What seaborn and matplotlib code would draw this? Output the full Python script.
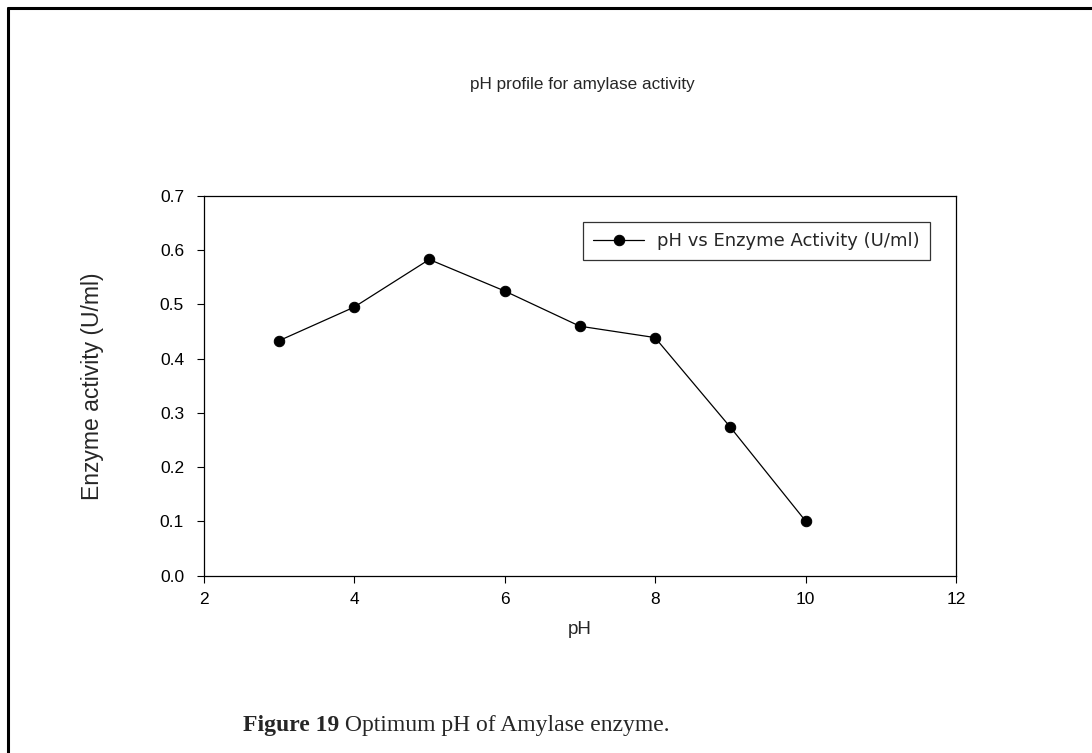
import matplotlib
matplotlib.use("Agg")
import matplotlib.pyplot as plt
import seaborn as sns
import pandas as pd
from matplotlib.lines import Line2D

# Data
ph_values = [3, 4, 5, 6, 7, 8, 9, 10]
activity = [0.433, 0.495, 0.583, 0.525, 0.460, 0.439, 0.274, 0.101]
x_ticks = [2, 4, 6, 8, 10, 12]
y_ticks = [0.0, 0.1, 0.2, 0.3, 0.4, 0.5, 0.6, 0.7]
series_name = "pH vs Enzyme Activity (U/ml)"
chart_title = "pH profile for amylase activity"
x_label = "pH"
y_label = "Enzyme activity (U/ml)"
caption_bold = "Figure 19"
caption_rest = " Optimum pH of Amylase enzyme."

sns.set_style("white")
plt.rcParams['font.family'] = ['Liberation Sans', 'DejaVu Sans']

df = pd.DataFrame({"pH": ph_values, "activity": activity})

W, H = 1092, 753
fig = plt.figure(figsize=(W / 100, H / 100), dpi=100)
ax = fig.add_axes([203.5 / W, 1 - 575.7 / H, (956 - 203.5) / W, (575.7 - 196) / H])

sns.lineplot(data=df, x="pH", y="activity", ax=ax, color="black",
             linewidth=0.9, marker="o", markersize=7.5,
             markeredgecolor="black", markerfacecolor="black",
             label=series_name)

ax.set_xlim(2, 12)
ax.set_ylim(0, 0.7)
ax.set_xticks(x_ticks)
ax.set_xticklabels([str(t) for t in x_ticks])
ax.set_yticks(y_ticks)
ax.set_yticklabels([f"{t:.1f}" for t in y_ticks])
ax.tick_params(axis="both", which="major", direction="out", length=5,
               width=0.8, color="black", labelsize=12.5, labelcolor="black",
               bottom=True, left=True, top=False, right=False)
ax.tick_params(axis="y", pad=9)
ax.tick_params(axis="x", pad=6.5)
for sp in ax.spines.values():
    sp.set_visible(True)
    sp.set_color("black")
    sp.set_linewidth(0.9)

ax.set_xlabel(x_label, fontsize=13.5)
ax.xaxis.set_label_coords(0.5, -0.12)
ax.set_ylabel(y_label, fontsize=16.5)
ax.yaxis.set_label_coords(-0.132, 0.5)

leg = ax.legend(loc="upper right",
                bbox_to_anchor=((930 - 203.5) / 752.5, (575.7 - 222) / 379.7),
                borderaxespad=0, frameon=True, fancybox=False,
                prop={"family": "DejaVu Sans", "size": 13},
                edgecolor="black", handlelength=2.8, borderpad=0.55,
                handletextpad=0.75)
leg.get_frame().set_linewidth(0.9)

fig.text(582 / W, 1 - 85 / H, chart_title, ha="center",
         va="center", fontsize=12.3)

cap_y = 1 - 731 / H
t1 = fig.text(243 / W, cap_y, caption_bold, ha="left", va="baseline",
              fontsize=17, fontweight="bold", family="Liberation Serif")
renderer = fig.canvas.get_renderer()
bb = t1.get_window_extent(renderer=renderer)
fig.text(bb.x1 / W, cap_y, caption_rest, ha="left", va="baseline",
         fontsize=17, family="Liberation Serif")

# frame lines (top and left)
fig.add_artist(Line2D([7.5 / W, 1.0], [1 - 7.5 / H, 1 - 7.5 / H],
                      transform=fig.transFigure, color="black", lw=2.2))
fig.add_artist(Line2D([7.5 / W, 7.5 / W], [0.0, 1 - 7.5 / H],
                      transform=fig.transFigure, color="black", lw=2.2))

fig.savefig("out.png", dpi=100, facecolor="white")
